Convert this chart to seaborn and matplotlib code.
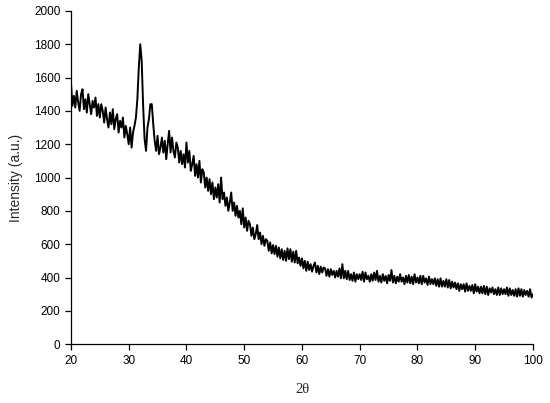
import numpy as np
import pandas as pd
import matplotlib
matplotlib.use("Agg")
import matplotlib.pyplot as plt
import seaborn as sns

# XRD scan, 0.25 degree steps from 20 to 100 (2-theta)
two_theta = np.arange(20, 100.01, 0.25)

# intensity, one row per degree (x.00, x.25, x.50, x.75)
intensity_rows = [
    [1570, 1430, 1490, 1420],  # 20
    [1520, 1450, 1400, 1500],
    [1530, 1410, 1470, 1390],
    [1500, 1440, 1380, 1460],
    [1420, 1480, 1370, 1440],
    [1360, 1440, 1400, 1330],  # 25
    [1420, 1350, 1300, 1390],
    [1320, 1410, 1290, 1350],
    [1380, 1270, 1340, 1300],
    [1360, 1240, 1310, 1260],
    [1200, 1300, 1180, 1270],  # 30
    [1310, 1360, 1470, 1660],
    [1800, 1700, 1430, 1230],
    [1160, 1300, 1350, 1440],
    [1440, 1320, 1220, 1160],
    [1250, 1140, 1180, 1240],  # 35
    [1150, 1220, 1110, 1200],
    [1280, 1150, 1240, 1160],
    [1120, 1210, 1180, 1090],
    [1160, 1080, 1140, 1060],
    [1210, 1090, 1160, 1040],  # 40
    [1080, 1130, 1010, 1080],
    [1000, 1100, 970, 1050],
    [1030, 940, 1000, 920],
    [990, 900, 970, 870],
    [940, 880, 960, 850],      # 45
    [1000, 870, 910, 830],
    [880, 800, 850, 910],
    [800, 850, 770, 830],
    [760, 800, 720, 815],
    [700, 760, 680, 740],      # 50
    [720, 650, 700, 630],
    [660, 715, 630, 670],
    [600, 650, 590, 630],
    [620, 560, 610, 545],
    [595, 540, 590, 525],      # 55
    [580, 515, 570, 505],
    [560, 500, 575, 510],
    [570, 495, 555, 490],
    [560, 485, 520, 470],
    [515, 455, 500, 440],      # 60
    [495, 445, 480, 435],
    [470, 490, 430, 470],
    [420, 465, 430, 460],
    [455, 410, 450, 405],
    [450, 415, 440, 400],      # 65
    [440, 405, 455, 395],
    [480, 395, 440, 390],
    [440, 385, 420, 380],
    [430, 375, 420, 390],
    [420, 385, 435, 375],      # 70
    [430, 390, 410, 375],
    [420, 380, 430, 385],
    [440, 375, 410, 370],
    [420, 380, 410, 365],
    [415, 380, 445, 370],      # 75
    [410, 365, 405, 375],
    [420, 375, 400, 360],
    [410, 370, 415, 365],
    [405, 360, 420, 370],
    [400, 365, 410, 360],      # 80
    [410, 370, 395, 355],
    [405, 360, 390, 360],
    [395, 350, 390, 345],
    [395, 345, 380, 345],
    [390, 340, 385, 335],      # 85
    [375, 340, 370, 330],
    [365, 320, 360, 330],
    [360, 315, 365, 320],
    [350, 320, 355, 305],
    [360, 315, 345, 305],      # 90
    [345, 305, 350, 300],
    [345, 295, 335, 310],
    [340, 300, 330, 295],
    [340, 295, 335, 300],
    [330, 300, 340, 290],      # 95
    [335, 295, 325, 290],
    [330, 285, 335, 290],
    [330, 285, 325, 295],
    [320, 285, 330, 280],
]
last_point = [300]  # 100

intensity = [v for row in intensity_rows for v in row] + last_point
df = pd.DataFrame({"two_theta": two_theta, "intensity": intensity})

x_ticks = [20, 30, 40, 50, 60, 70, 80, 90, 100]
y_ticks = [0, 200, 400, 600, 800, 1000, 1200, 1400, 1600, 1800, 2000]

sns.set_style("ticks")
plt.rcParams["font.family"] = ["Liberation Sans", "DejaVu Sans"]

fig = plt.figure(figsize=(5.5, 4.03), dpi=100)
ax = fig.add_axes([0.129, 0.146, 0.84, 0.827])
sns.lineplot(data=df, x="two_theta", y="intensity", color="black", linewidth=1.4, ax=ax)

ax.set_xlim(20, 100)
ax.set_ylim(0, 2000)
ax.set_xticks(x_ticks)
ax.set_yticks(y_ticks)
ax.tick_params(axis="both", labelsize=8.5, length=4, width=0.9, color="black", labelcolor="black")
for s in ["left", "bottom"]:
    ax.spines[s].set_linewidth(0.9)
    ax.spines[s].set_color("black")
sns.despine(ax=ax)

ax.set_xlabel("2θ", fontsize=10.5, family=["Liberation Serif", "DejaVu Serif"], labelpad=12)
ax.set_ylabel("Intensity (a.u.)", fontsize=10, labelpad=8)

plt.savefig("out.png", dpi=100)
